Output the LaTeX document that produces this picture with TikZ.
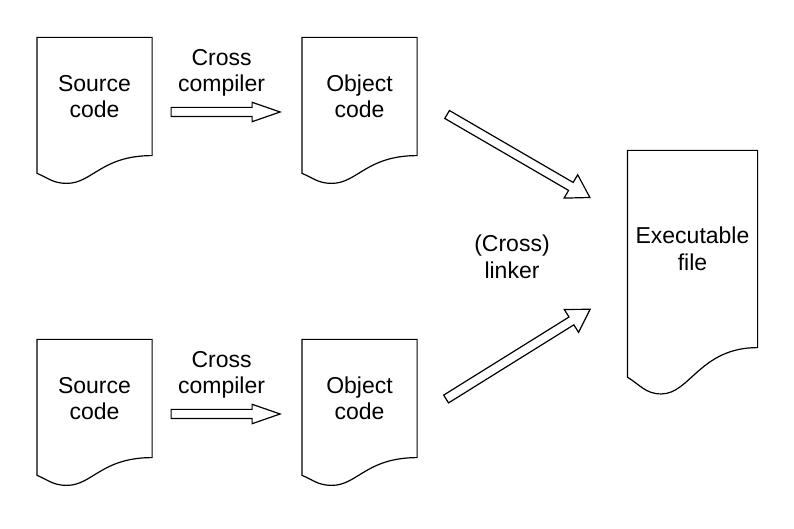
\documentclass[tikz,border=0pt]{standalone}
\usepackage{fontspec}
\setmainfont{Liberation Sans}
\usetikzlibrary{calc,positioning}

\tikzset{
	doc/.style={minimum width=114pt, minimum height=117pt, align=center, inner sep=0pt},
	lbl/.style={align=center, inner sep=0pt},
	blockarrow/.style 2 args={to path={
		let \p1=(\tikztostart), \p2=(\tikztotarget),
		\n1={atan2(\y2-\y1,\x2-\x1)}, \n2={veclen(\x2-\x1,\y2-\y1)} in
		($(\p1)+(\n1+90:4.6pt)$) -- ($(\p1)+(\n1:\n2-#2)+(\n1+90:4.6pt)$)
		-- ($(\p1)+(\n1:\n2-#2)+(\n1+90:#1)$) -- (\p2)
		-- ($(\p1)+(\n1:\n2-#2)+(\n1-90:#1)$) -- ($(\p1)+(\n1:\n2-#2)+(\n1-90:4.6pt)$)
		-- ($(\p1)+(\n1-90:4.6pt)$) -- cycle}}
}

% outline of a document with a wavy bottom
\newcommand{\docshape}[1]{%
	\draw let \p1=(#1.south west), \p2=(#1.north east), \n1={\x2-\x1}, \n2={\y2-\y1} in
	(#1.north west) -- (#1.north east) -- (#1.south east)
	.. controls ($(#1.south east)+(-0.44*\n1,0)$) and ($(\p1)+(0.48*\n1,-0.235*\n2)$)
	.. ($(\p1)+(0.26*\n1,-0.235*\n2)$)
	.. controls ($(\p1)+(0.14*\n1,-0.235*\n2)$) and ($(\p1)+(0.1*\n1,-0.19*\n2)$)
	.. ($(\p1)+(0,-0.15*\n2)$) -- cycle;}

\begin{document}
\begin{tikzpicture}[x=1pt, y=1pt, line width=1.2pt, font=\fontsize{23}{26.5}\selectfont]
	\useasboundingbox (0,0) rectangle (794,529);
	%documents
	\node[doc] (src1) at (94.5,432.5) {Source\\code};
	\node[doc] (obj1) at (359.5,432.5) {Object\\code};
	\node[doc] (src2) at (94.5,130.5) {Source\\code};
	\node[doc] (obj2) at (359.5,130.5) {Object\\code};
	\node[doc, minimum width=129pt, minimum height=196pt] (exe) at (692.5,280) {Executable\\file};
	\foreach \doc in {src1,obj1,src2,obj2,exe}
	\docshape{\doc};
	%compiler arrows
	\foreach \srcname/\objname/\row in {src1/obj1/1, src2/obj2/2}{
		\coordinate (ca\row) at ($(\srcname.east)+(19,-15.5)$);
		\coordinate (cb\row) at ($(\objname.west)+(-21.8,-15.5)$);
		\draw[blockarrow={9.7pt}{28pt}] (ca\row) to (cb\row);
		\path (ca\row) -- (cb\row) coordinate[midway] (cm\row);
		\node[lbl, above=15pt of cm\row, xshift=-4pt] (cc\row) {Cross\\compiler};
	}
	%linker arrows
	\coordinate (la1) at ($(obj1.east)+(30,-18)$);
	\coordinate (lb1) at ($(exe.west)+(-37.5,51.5)$);
	\coordinate (la2) at ($(obj2.east)+(29,-0.5)$);
	\coordinate (lb2) at ($(exe.west)+(-37.3,-60.3)$);
	\draw[blockarrow={13.5pt}{22pt}] (la1) to (lb1);
	\draw[blockarrow={13.5pt}{22pt}] (la2) to (lb2);
	\node[lbl] (lnk) at (512,272) {(Cross)\\linker};
\end{tikzpicture}
\end{document}
